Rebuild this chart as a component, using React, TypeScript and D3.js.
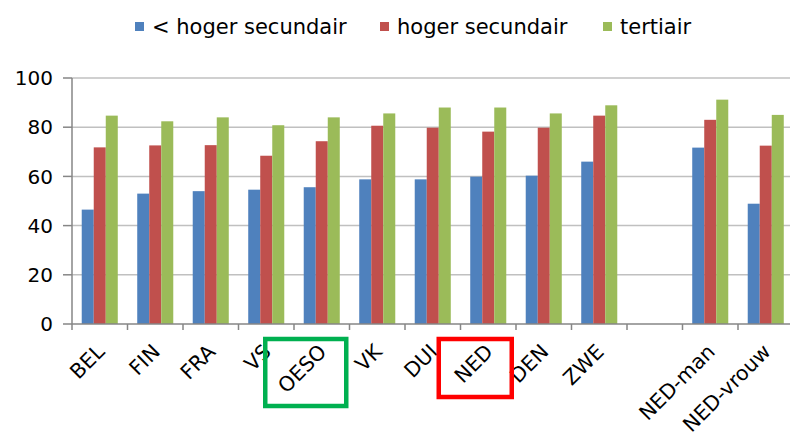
import React from 'react';
import * as d3 from 'd3';

// categories (empty string = gap between countries and NED split)
const categories = ['BEL', 'FIN', 'FRA', 'VS', 'OESO', 'VK', 'DUI', 'NED', 'DEN', 'ZWE', '', 'NED-man', 'NED-vrouw'];
const series = ['< hoger secundair', 'hoger secundair', 'tertiair'];
const lowSec = [46.5, 53, 54, 54.6, 55.6, 58.8, 58.8, 59.9, 60.3, 66, null, 71.7, 48.9];
const highSec = [71.8, 72.6, 72.7, 68.4, 74.3, 80.6, 79.8, 78.2, 79.8, 84.7, null, 83, 72.5];
const tertiary = [84.7, 82.4, 84, 80.8, 84, 85.6, 88, 88, 85.6, 88.9, null, 91.2, 85];
const yTicks = [0, 20, 40, 60, 80, 100];
const colors = ['#4f81bd', '#c0504d', '#9bbb59'];
const highlights = [
  { cat: 'OESO', color: '#00b050', dx: -16, w: 81, h: 67 },
  { cat: 'NED', color: '#ff0000', dx: -13, w: 73, h: 58 },
];

const W = 790;
const H = 437;
const left = 72;
const right = 793.5;
const top = 78;
const bottom = 324;
const font = 'DejaVu Sans, Verdana, sans-serif';

export default function App() {
  const values = [lowSec, highSec, tertiary];

  const key = (i: number) => categories[i] || `gap${i}`;
  const x = d3.scaleBand<string>().domain(categories.map((c, i) => key(i))).range([left, right]);
  const x1 = d3.scaleBand<string>().domain(series).range([0, x.bandwidth()]).paddingOuter(0.81);
  const y = d3.scaleLinear().domain([0, 100]).range([bottom, top]);

  const legendX = [135, 380, 603];

  return (
    <svg width={W} height={H} style={{ position: 'absolute', left: 0, top: 0, background: '#fff' }}>
      {/* gridlines */}
      {yTicks.slice(1).map((t) => (
        <line key={t} x1={left} x2={W} y1={y(t)} y2={y(t)} stroke="#c0c0c0" strokeWidth={1.5} />
      ))}
      {/* bars */}
      {categories.map((c, i) => (
        <g key={key(i)} transform={`translate(${x(key(i))},0)`}>
          {series.map((s, j) => {
            const v = values[j][i];
            if (v == null) return null;
            return (
              <rect key={s} x={x1(s)} y={y(v)} width={x1.bandwidth()} height={bottom - y(v)} fill={colors[j]} />
            );
          })}
        </g>
      ))}
      {/* y axis */}
      <line x1={left} x2={left} y1={top} y2={bottom} stroke="#868686" strokeWidth={1.5} />
      {yTicks.map((t) => (
        <g key={t}>
          <line x1={left - 9} x2={left} y1={y(t)} y2={y(t)} stroke="#868686" strokeWidth={1.5} />
          <text x={53} y={y(t)} dy="0.36em" textAnchor="end" fontFamily={font} fontSize={20} fill="#000">
            {t}
          </text>
        </g>
      ))}
      {/* x axis */}
      <line x1={left} x2={W} y1={bottom} y2={bottom} stroke="#868686" strokeWidth={1.5} />
      {categories.map((c, i) => (
        <line
          key={`t${i}`}
          x1={(x(key(i)) as number) + x.bandwidth()}
          x2={(x(key(i)) as number) + x.bandwidth()}
          y1={bottom}
          y2={bottom + 6}
          stroke="#868686"
          strokeWidth={1.5}
        />
      ))}
      <line x1={left} x2={left} y1={bottom} y2={bottom + 6} stroke="#868686" strokeWidth={1.5} />
      {categories.map((c, i) => {
        if (!c) return null;
        const cx = (x(key(i)) as number) + x.bandwidth() / 2 + 6;
        const cy = 353;
        return (
          <text
            key={`l${i}`}
            x={cx}
            y={cy}
            textAnchor="end"
            transform={`rotate(-45,${cx},${cy})`}
            fontFamily={font}
            fontSize={20.5}
            fill="#000"
          >
            {c}
          </text>
        );
      })}
      {/* highlight boxes */}
      {highlights.map((hl) => {
        const cx = (x(hl.cat) as number) + x.bandwidth() / 2 + hl.dx;
        return (
          <rect
            key={hl.cat}
            x={cx - hl.w / 2}
            y={339}
            width={hl.w}
            height={hl.h}
            fill="none"
            stroke={hl.color}
            strokeWidth={4.5}
          />
        );
      })}
      {/* legend */}
      {series.map((s, j) => (
        <g key={s} transform={`translate(${legendX[j]},0)`}>
          <rect x={0} y={22} width={9} height={9} fill={colors[j]} />
          <text x={17} y={34} fontFamily={font} fontSize={21} fill="#000">
            {s}
          </text>
        </g>
      ))}
    </svg>
  );
}
